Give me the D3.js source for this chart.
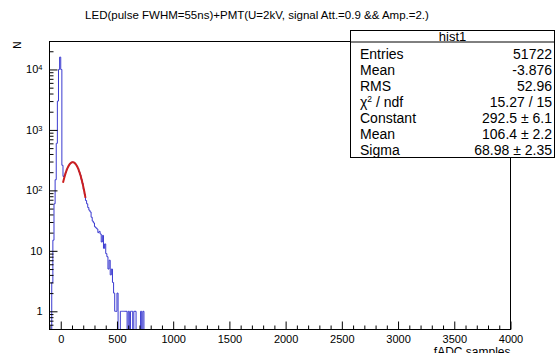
<!DOCTYPE html>
<html>
<head>
<meta charset="utf-8">
<script src="https://cdn.jsdelivr.net/npm/d3@7"></script>
<style>
  body { margin: 0; background: #fff; }
  text { font-family: "Liberation Sans", Arial, Helvetica, sans-serif; fill: #000; }
</style>
</head>
<body>
<script>
// histogram bins: width 10, first bin starts at -100
var binStart = -100;
var binWidth = 10;
var counts = [
  0, 0, 3, 15, 60, 150, 600, 3000, 10000, 16000,      // -100 .. -10
  10000, 260, 170, 178, 198, 225, 242, 262, 280, 286, // 0 .. 90
  294, 290, 281, 270, 250, 230, 202, 180, 152, 130,   // 100 .. 190
  104, 86, 68, 60, 52, 47, 44, 36, 31, 29,            // 200 .. 290
  25, 24, 23, 20, 21, 19, 14, 18, 11, 13,             // 300 .. 390
  9, 8, 5, 7, 4, 5, 3, 2, 1, 1,                       // 400 .. 490
  2, 0, 0, 1, 1, 1, 1, 1, 1, 0,                       // 500 .. 590
  1, 0, 1, 1, 0, 1, 1, 0, 0, 0,                       // 600 .. 690
  0, 1, 0, 1, 0                                       // 700 .. 740
];

var xRange = [-100, 4000];
var yRange = [0.5, 29000];
var xMajorTicks = [0, 500, 1000, 1500, 2000, 2500, 3000, 3500, 4000];
var yMajorTicks = [1, 10, 100, 1000, 10000];
var yTickLabels = [["1", ""], ["10", ""], ["10", "2"], ["10", "3"], ["10", "4"]];

// gaussian fit (values from the stats box)
var fitConstant = 292.5;
var fitMean = 106.4;
var fitSigma = 68.98;
var fitRange = [20, 220];

var statsTitle = "hist1";
var statsNames = ["Entries", "Mean", "RMS", "\u03c7\u00b2 / ndf", "Constant", "Mean", "Sigma"];
var statsValues = ["51722", "-3.876", "52.96", "15.27 / 15", "292.5 \u00b1 6.1", "106.4 \u00b1 2.2", "68.98 \u00b1 2.35"];

var titleText = "LED(pulse FWHM=55ns)+PMT(U=2kV, signal Att.=0.9 && Amp.=2.)";

var width = 556;
var height = 353;
var frameLeft = 49.5;
var frameRight = 510.5;
var frameTop = 41.5;
var frameBottom = 329.5;

var svg = d3.select("body").append("svg")
  .attr("width", width)
  .attr("height", height);

var xScale = d3.scaleLinear().domain(xRange).range([frameLeft, frameRight]);
var yScale = d3.scaleLog().domain(yRange).range([frameBottom, frameTop]);

svg.append("clipPath").attr("id", "frameClip")
  .append("rect")
  .attr("x", frameLeft).attr("y", frameTop)
  .attr("width", frameRight - frameLeft).attr("height", frameBottom - frameTop);

// title
svg.append("text")
  .attr("x", 257)
  .attr("y", 19)
  .attr("text-anchor", "middle")
  .style("font-size", "11.5px")
  .text(titleText);

// histogram as step line
var histPoints = [];
counts.forEach(function(c, i) {
  histPoints.push([binStart + i * binWidth, c]);
});
histPoints.push([binStart + counts.length * binWidth, 0]);

var histLine = d3.line()
  .x(d => xScale(d[0]))
  .y(d => d[1] > 0 ? yScale(d[1]) : frameBottom)
  .curve(d3.curveStepAfter);

svg.append("path")
  .attr("clip-path", "url(#frameClip)")
  .attr("d", histLine(histPoints))
  .attr("fill", "none")
  .attr("stroke", "#3a3ad0")
  .attr("stroke-width", 1);

// fit curve
var fitPoints = d3.range(fitRange[0], fitRange[1] + 0.1, 2).map(function(v) {
  return [v, fitConstant * Math.exp(-0.5 * Math.pow((v - fitMean) / fitSigma, 2))];
});
svg.append("path")
  .attr("d", d3.line().x(d => xScale(d[0])).y(d => yScale(d[1]))(fitPoints))
  .attr("fill", "none")
  .attr("stroke", "#cc1f1f")
  .attr("stroke-width", 2);

// frame
svg.append("rect")
  .attr("x", frameLeft).attr("y", frameTop)
  .attr("width", frameRight - frameLeft).attr("height", frameBottom - frameTop)
  .attr("fill", "none")
  .attr("stroke", "#000")
  .attr("stroke-width", 1);

// x axis, ticks inside the frame
var xMinor = d3.range(-100, 4001, 100).filter(v => v % 500 != 0);
var xAxis = svg.append("g")
  .attr("transform", "translate(0," + frameBottom + ")")
  .call(d3.axisBottom(xScale).tickValues(xMajorTicks).tickSizeInner(-8).tickSizeOuter(0).tickPadding(6).tickFormat(d3.format("d")));
svg.append("g")
  .attr("transform", "translate(0," + frameBottom + ")")
  .call(d3.axisBottom(xScale).tickValues(xMinor).tickSizeInner(-4).tickSizeOuter(0).tickFormat(""));

// y axis
var yMinor = [];
[0.1, 1, 10, 100, 1000, 10000].forEach(function(dec) {
  for (var k = 2; k <= 9; k++) {
    var v = dec * k;
    if (v > yRange[0] && v < yRange[1]) yMinor.push(v);
  }
});
var yAxis = svg.append("g")
  .attr("transform", "translate(" + frameLeft + ",0)")
  .call(d3.axisLeft(yScale).tickValues(yMajorTicks).tickSizeInner(-8).tickSizeOuter(0).tickPadding(7).tickFormat(""));
svg.append("g")
  .attr("transform", "translate(" + frameLeft + ",0)")
  .call(d3.axisLeft(yScale).tickValues(yMinor).tickSizeInner(-4).tickSizeOuter(0).tickFormat(""));

yAxis.selectAll(".tick text").each(function(d, i) {
  var t = d3.select(this);
  var lab = yTickLabels[yMajorTicks.indexOf(d)];
  t.append("tspan").text(lab[0]);
  if (lab[1]) {
    t.append("tspan").attr("dy", "-0.45em").style("font-size", "7.5px").text(lab[1]);
  }
});

svg.selectAll(".domain").remove();
svg.selectAll(".tick line").attr("stroke", "#000");
xAxis.selectAll(".tick text").style("font-size", "11px").style("font-family", "'Liberation Sans', Arial, sans-serif");
yAxis.selectAll(".tick text").style("font-size", "11px").style("font-family", "'Liberation Sans', Arial, sans-serif");

// axis titles
svg.append("text")
  .attr("transform", "translate(21," + frameTop + ") rotate(-90)")
  .attr("text-anchor", "end")
  .style("font-size", "10px")
  .text("N");

svg.append("text")
  .attr("x", frameRight)
  .attr("y", 356)
  .attr("text-anchor", "end")
  .style("font-size", "12px")
  .text("fADC samples");

// stats box
var boxX = 350.5, boxY = 30.5, boxW = 204, boxH = 127;
var stats = svg.append("g");
stats.append("rect")
  .attr("x", boxX).attr("y", boxY)
  .attr("width", boxW).attr("height", boxH)
  .attr("fill", "#fff")
  .attr("stroke", "#000");
stats.append("line")
  .attr("x1", boxX).attr("x2", boxX + boxW)
  .attr("y1", 42).attr("y2", 42)
  .attr("stroke", "#000");
stats.append("text")
  .attr("x", boxX + boxW / 2)
  .attr("y", 40.5)
  .attr("text-anchor", "middle")
  .style("font-size", "13px")
  .text(statsTitle);

statsNames.forEach(function(name, i) {
  var yy = 58.5 + i * 16.1;
  var t = stats.append("text")
    .attr("x", 360)
    .attr("y", yy)
    .style("font-size", "14px");
  if (i == 3) {
    t.append("tspan").text("\u03c7");
    t.append("tspan").attr("dy", "-5").style("font-size", "8.5px").text("2");
    t.append("tspan").attr("dy", "5").text(" / ndf");
  } else {
    t.text(name);
  }
  stats.append("text")
    .attr("x", 552)
    .attr("y", yy)
    .attr("text-anchor", "end")
    .style("font-size", "14px")
    .text(statsValues[i]);
});
</script>
</body>
</html>
